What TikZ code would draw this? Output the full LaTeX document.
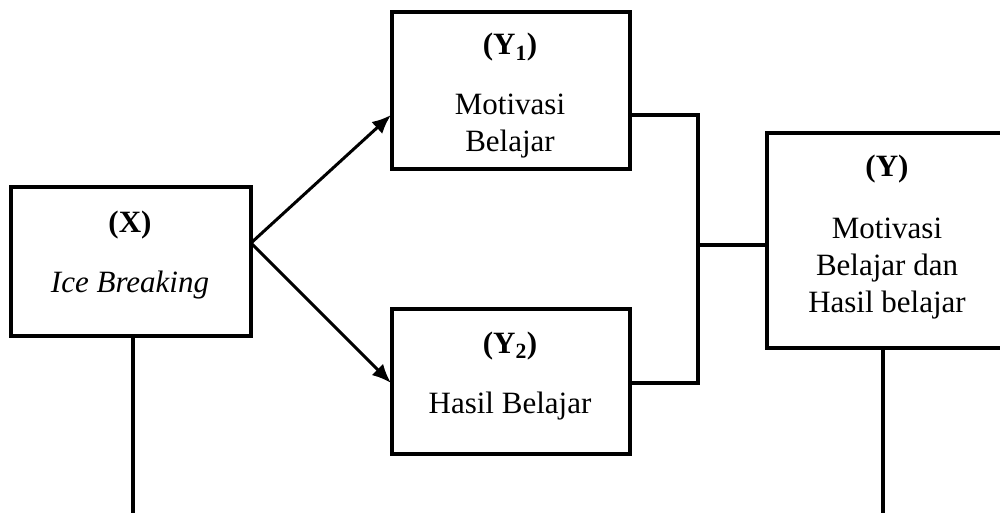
\documentclass[tikz,border=0pt]{standalone}
\usepackage{fontspec}
\setmainfont{Liberation Serif}
\usetikzlibrary{arrows.meta}
\begin{document}
\begin{tikzpicture}[x=1pt,y=-1pt,
  box/.style={draw=black,line width=3.6pt,inner sep=0pt,outer sep=0pt,rectangle},
  lbl/.style={anchor=base,inner sep=0pt,font=\fontsize{31}{37}\selectfont},
  wire/.style={line width=3.6pt},
  arr/.style={line width=3pt,-{Latex[length=19pt,width=16pt]}}]
\useasboundingbox (0,0) rectangle (1000,513);
\begin{scope}
\clip (0,0) rectangle (1000,513);
\node[box,minimum width=240pt,minimum height=149pt] (X) at (131,261.5) {};
\node[box,minimum width=238pt,minimum height=157pt] (Y1) at (511,90.5) {};
\node[box,minimum width=238pt,minimum height=145pt] (Y2) at (511,381.5) {};
\node[box,minimum width=240pt,minimum height=215pt] (Y) at (887,240.5) {};
\end{scope}
% texts
\node[lbl] (tx) at (130,232) {\textbf{(X)}};
\node[lbl] (tx2) at (130,292) {\textit{Ice Breaking}};
\node[lbl] (ty1) at (510,55) {\textbf{(Y\textsubscript{1})}};
\node[lbl] (ty1a) at (510,115) {Motivasi};
\node[lbl] (ty1b) at (510,152) {Belajar};
\node[lbl] (ty2) at (510,353) {\textbf{(Y\textsubscript{2})}};
\node[lbl] (ty2a) at (510,413) {Hasil Belajar};
\node[lbl] (ty) at (887,177) {\textbf{(Y)}};
\node[lbl] (tya) at (887,238) {Motivasi};
\node[lbl] (tyb) at (887,275) {Belajar dan};
\node[lbl] (tyc) at (887,312) {Hasil belajar};
% connectors
\coordinate (xo) at (251,243);
\coordinate (a1) at (391,115);
\coordinate (a2) at (391,383);
\coordinate (j1) at (698,115);
\coordinate (j2) at (698,383);
\coordinate (jm) at (698,245);
\coordinate (xb) at (133,513);
\coordinate (yb) at (883,513);
\draw[arr] (xo) -- (a1);
\draw[arr] (xo) -- (a2);
\draw[wire] (Y1.east |- j1) -- (j1) -- (j2) -- (Y2.east |- j2);
\draw[wire] (jm) -- (jm -| Y.west);
\draw[wire] (xb |- X.south) -- (xb);
\draw[wire] (yb |- Y.south) -- (yb);
\end{tikzpicture}
\end{document}
